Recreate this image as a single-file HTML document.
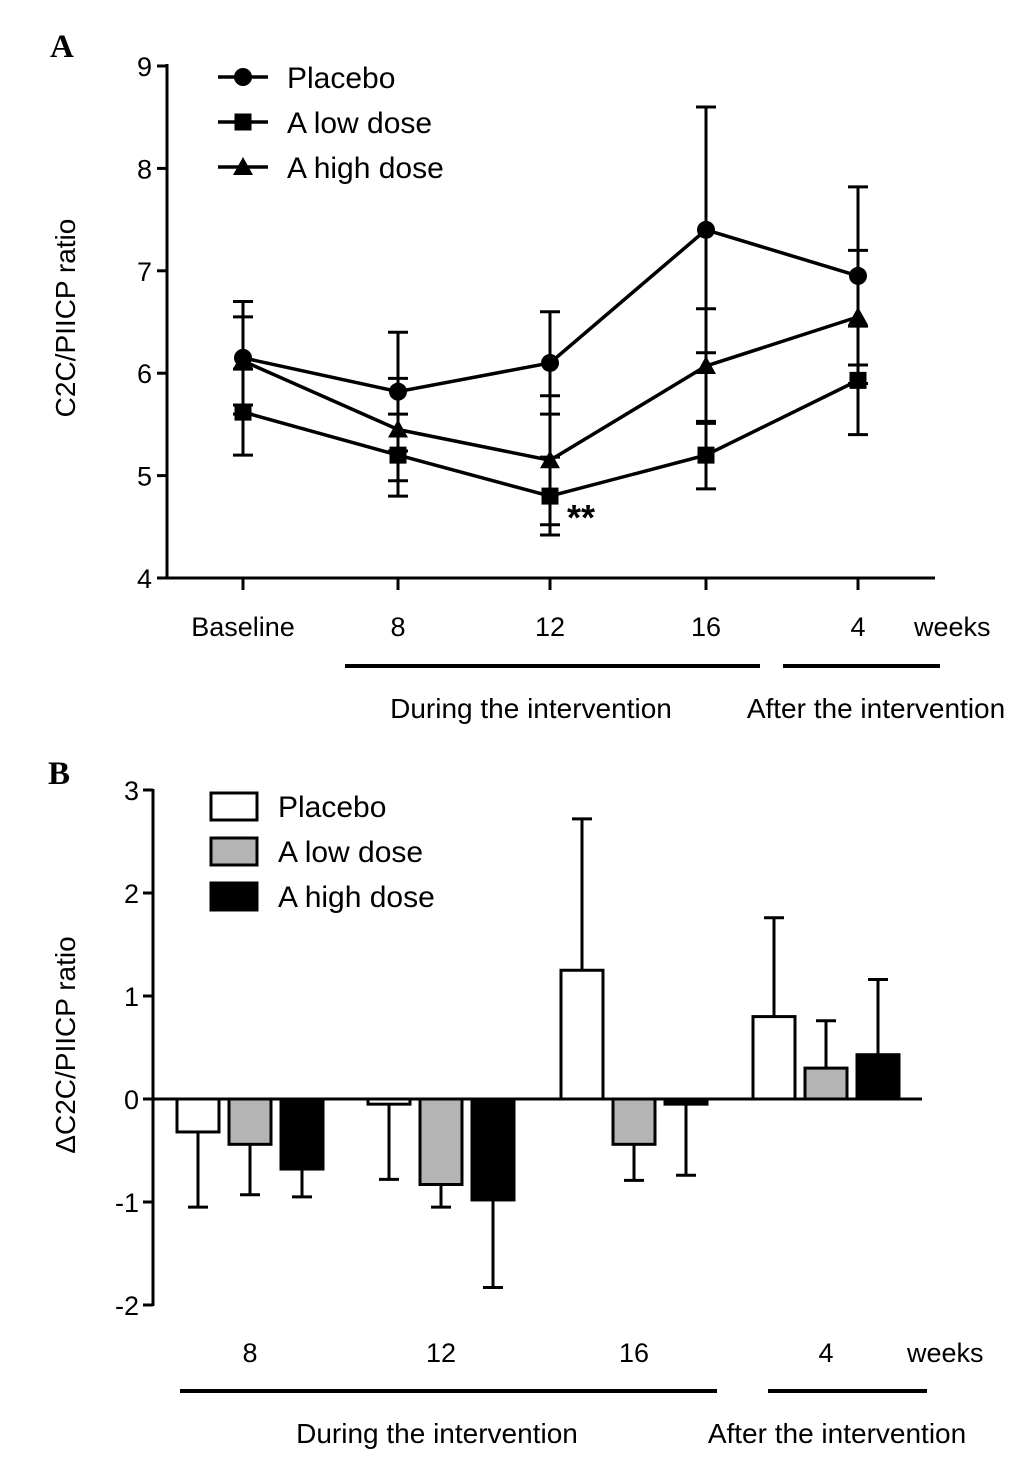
<!DOCTYPE html>
<html><head><meta charset="utf-8"><style>
html,body{margin:0;padding:0;background:#fff}
svg{display:block;font-family:"Liberation Sans",sans-serif}
</style></head><body>
<svg id="s" width="1033" height="1462" viewBox="0 0 1033 1462" xmlns="http://www.w3.org/2000/svg">
<text x="50" y="57" font-family="Liberation Serif" font-weight="bold" font-size="33">A</text>
<text x="48" y="784" font-family="Liberation Serif" font-weight="bold" font-size="33">B</text>
<g id="ga"></g>
<g id="gb"></g>
</svg>
<script>
// Panel A data
const catsA = ["Baseline","8","12","16","4"];
const placeboA = [6.15,5.82,6.1,7.4,6.95];
const placeboErrA = [0.55,0.58,0.5,1.2,0.87];
const lowA = [5.62,5.2,4.8,5.2,5.93];
const lowErrA = [0.42,0.4,0.38,0.33,0.53];
const highA = [6.12,5.45,5.15,6.07,6.55];
const highErrA = [0.43,0.5,0.63,0.56,0.65];
const ticksA = [4,5,6,7,8,9];
// Panel B data
const catsB = ["8","12","16","4"];
const placeboB = [-0.32,-0.05,1.25,0.8];
const placeboErrB = [0.73,0.73,1.47,0.96];
const lowB = [-0.44,-0.83,-0.44,0.3];
const lowErrB = [0.49,0.22,0.35,0.46];
const highB = [-0.68,-0.98,-0.05,0.43];
const highErrB = [0.27,0.85,0.69,0.73];
const ticksB = [-2,-1,0,1,2,3];

const NS="http://www.w3.org/2000/svg";
function mk(p,tag,at,txt){const e=document.createElementNS(NS,tag);for(const k in at)e.setAttribute(k,at[k]);if(txt!==undefined)e.textContent=txt;p.appendChild(e);return e;}

// ---- Panel A
const ga=document.getElementById('ga');
const yA=v=>578-(v-4)*102.4;
const xA=i=>[243,398,550,706,858][i];
let e=mk(ga,'line',{x1:167,y1:64,x2:167,y2:579,stroke:'#000','stroke-width':3});

e=mk(ga,'line',{x1:166,y1:578,x2:935,y2:578,stroke:'#000','stroke-width':3});

ticksA.forEach(t=>{
 e=mk(ga,'line',{x1:157,y1:yA(t),x2:167,y2:yA(t),stroke:'#000','stroke-width':3});
 
 e=mk(ga,'text',{x:152,y:yA(t)+10,'font-size':27,'text-anchor':'end'},String(t));
 
});
catsA.forEach((c,i)=>{
 e=mk(ga,'line',{x1:xA(i),y1:578,x2:xA(i),y2:590,stroke:'#000','stroke-width':3});
 
 e=mk(ga,'text',{x:xA(i),y:636,'font-size':27,'text-anchor':'middle'},c);
 
});
e=mk(ga,'text',{x:914,y:636,'font-size':27},'weeks');
e=mk(ga,'text',{x:0,y:0,'font-size':28,'text-anchor':'middle',transform:'translate(75,318) rotate(-90)'},'C2C/PIICP ratio');

function marker(p,kind,x,y){
 let m;
 if(kind==='c') m=mk(p,'circle',{cx:x,cy:y,r:9,fill:'#000'});
 else if(kind==='s') m=mk(p,'rect',{x:x-8.5,y:y-8.5,width:17,height:17,fill:'#000'});
 else m=mk(p,'polygon',{points:`${x},${y-10} ${x+10},${y+8} ${x-10},${y+8}`,fill:'#000'});
 return m;
}
const seriesA=[[placeboA,placeboErrA,'c','placebo'],[lowA,lowErrA,'s','low-dose'],[highA,highErrA,'t','high-dose']];
seriesA.forEach(([v,er,k,n])=>{
 v.forEach((d,i)=>{
  const x=xA(i);
  e=mk(ga,'path',{d:`M${x},${yA(d+er[i])}V${yA(d-er[i])}M${x-10},${yA(d+er[i])}H${x+10}M${x-10},${yA(d-er[i])}H${x+10}`,stroke:'#000','stroke-width':3,fill:'none'});
  
 });
 e=mk(ga,'polyline',{points:v.map((d,i)=>xA(i)+','+yA(d)).join(' '),stroke:'#000','stroke-width':3.5,fill:'none'});
 
 v.forEach((d,i)=>{e=marker(ga,k,xA(i),yA(d));});
});
e=mk(ga,'text',{x:567,y:530,'font-size':36,'font-weight':'bold'},'**');
const legA=[['Placebo','c',77],['A low dose','s',122],['A high dose','t',167]];
legA.forEach(([t,k,y])=>{
 e=mk(ga,'line',{x1:218,y1:y,x2:268,y2:y,stroke:'#000','stroke-width':3.5});
 e=marker(ga,k,243,y);
 e=mk(ga,'text',{x:287,y:y+11,'font-size':30},t);
});
[[345,760,531,'During the intervention'],[783,940,876,'After the intervention']].forEach(([a,b,c,t])=>{
 e=mk(ga,'line',{x1:a,y1:666,x2:b,y2:666,stroke:'#000','stroke-width':4});
 e=mk(ga,'text',{x:c,y:718,'font-size':28,'text-anchor':'middle'},t);
});

// ---- Panel B
const gb=document.getElementById('gb');
const yB=v=>1099-v*103;
const cx=[250,441,634,826];
const off=[-52,0,52];
const bw=42;
e=mk(gb,'line',{x1:153,y1:789,x2:153,y2:1306,stroke:'#000','stroke-width':3});
ticksB.forEach(t=>{
 e=mk(gb,'line',{x1:143,y1:yB(t),x2:153,y2:yB(t),stroke:'#000','stroke-width':3});
 e=mk(gb,'text',{x:139,y:yB(t)+10,'font-size':27,'text-anchor':'end'},String(t));
});
e=mk(gb,'text',{x:0,y:0,'font-size':28,'text-anchor':'middle',transform:'translate(75,1045) rotate(-90)'},'ΔC2C/PIICP ratio');

const seriesB=[[placeboB,placeboErrB,'#fff','placebo'],[lowB,lowErrB,'#b4b4b4','low-dose'],[highB,highErrB,'#000','high-dose']];
seriesB.forEach(([v,er,f,n],s)=>{
 v.forEach((d,i)=>{
  const x=cx[i]+off[s];
  const tip=d>=0?d+er[i]:d-er[i];
  e=mk(gb,'path',{d:`M${x},${yB(d)}V${yB(tip)}M${x-10},${yB(tip)}H${x+10}`,stroke:'#000','stroke-width':3,fill:'none'});
  
  e=mk(gb,'rect',{x:x-bw/2,y:Math.min(yB(d),yB(0)),width:bw,height:Math.abs(yB(d)-yB(0)),fill:f,stroke:'#000','stroke-width':3});
  
 });
});
e=mk(gb,'line',{x1:152,y1:1099,x2:922,y2:1099,stroke:'#000','stroke-width':3});
catsB.forEach((c,i)=>{
 e=mk(gb,'text',{x:cx[i],y:1362,'font-size':27,'text-anchor':'middle'},c);
});
e=mk(gb,'text',{x:907,y:1362,'font-size':27},'weeks');
const legB=[['Placebo','#fff',806],['A low dose','#b4b4b4',851],['A high dose','#000',896]];
legB.forEach(([t,f,y])=>{
 e=mk(gb,'rect',{x:211,y:y-13,width:46,height:27,fill:f,stroke:'#000','stroke-width':3});
 e=mk(gb,'text',{x:278,y:y+11,'font-size':30},t);
});
[[180,717,437,'During the intervention'],[768,927,837,'After the intervention']].forEach(([a,b,c,t])=>{
 e=mk(gb,'line',{x1:a,y1:1391,x2:b,y2:1391,stroke:'#000','stroke-width':4});
 e=mk(gb,'text',{x:c,y:1443,'font-size':28,'text-anchor':'middle'},t);
});
</script>
</body></html>
